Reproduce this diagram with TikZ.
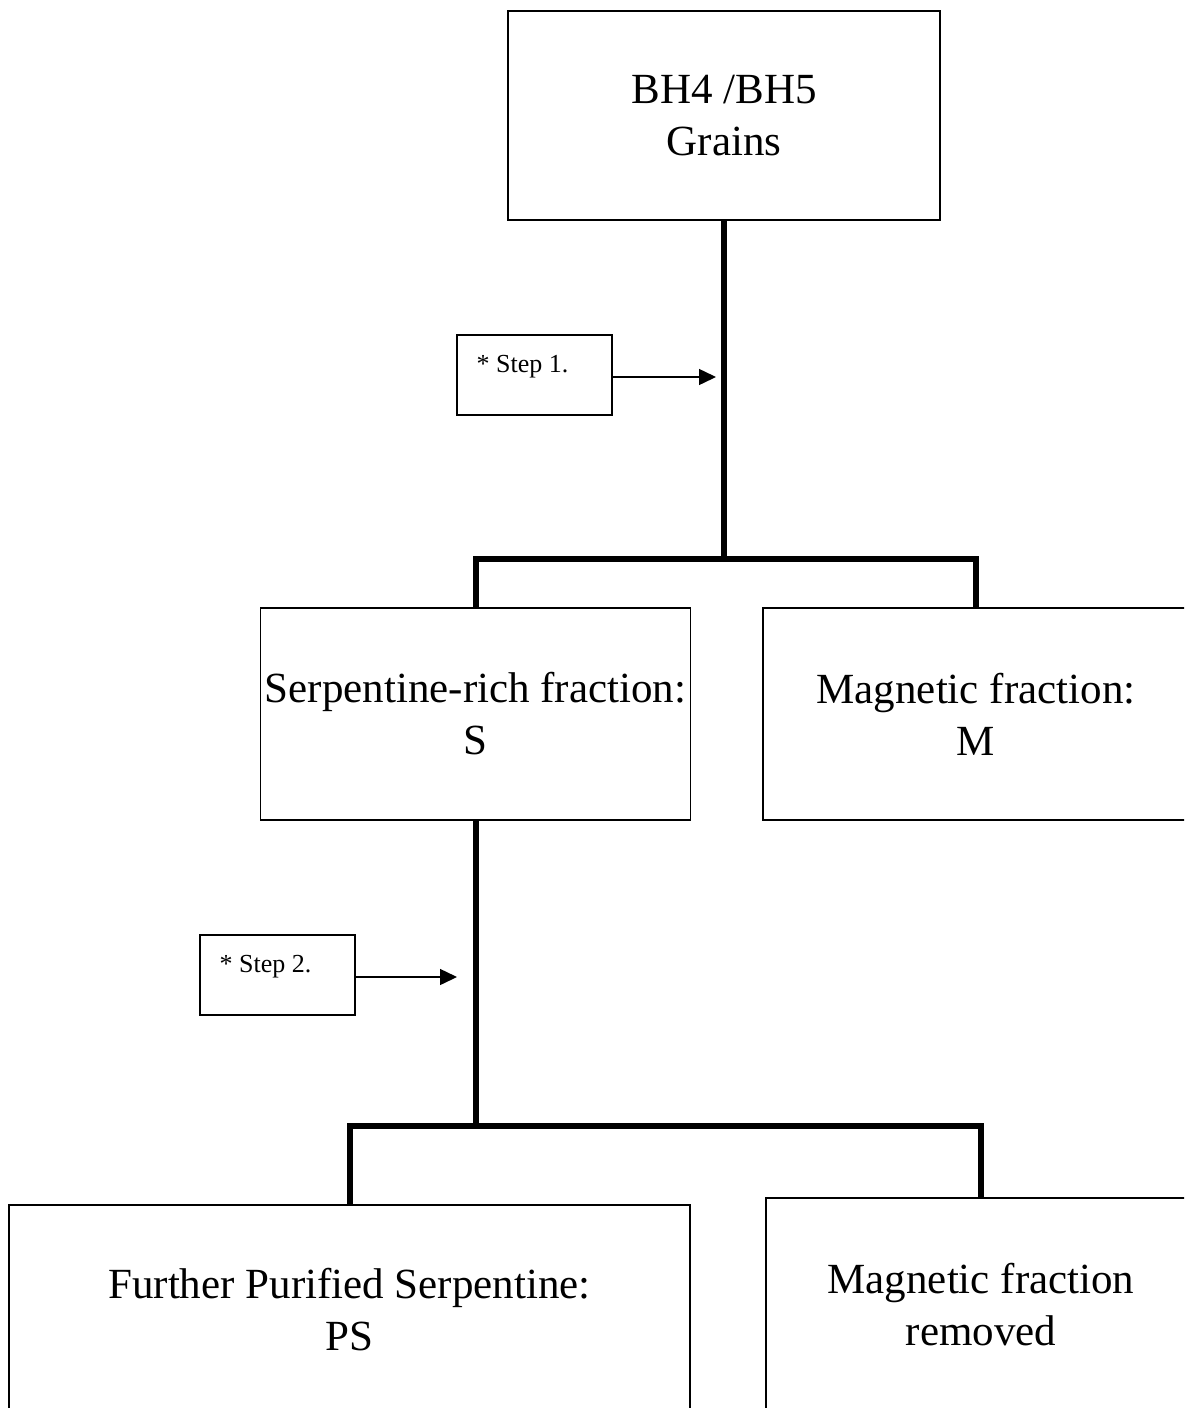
\documentclass[tikz,border=0pt]{standalone}
\usepackage{fontspec}
\setmainfont{Liberation Serif}
\usetikzlibrary{arrows.meta}
\begin{document}
\begin{tikzpicture}[x=0.5pt,y=-0.5pt,
    box/.style={draw,line width=0.9pt,align=center,inner sep=0pt,
      font=\fontsize{21.5}{26}\selectfont},
    stepbox/.style={draw,line width=0.8pt,minimum width=77.5pt,minimum height=40pt},
    steplabel/.style={inner sep=0pt,font=\fontsize{13}{15}\selectfont},
    link/.style={line width=3pt},
    pointer/.style={line width=0.75pt,-{Triangle[length=8.5pt,width=8pt]}}]
      \clip (0,0) rectangle (1184,1408);
      \draw
        (724,115.5) node[box,minimum width=216pt,minimum height=104.5pt] (grains){BH4 /BH5\\Grains}
        (475.5,714) node[box,minimum width=215pt,minimum height=106pt] (serp){Serpentine-rich fraction:\\S}
        (976,714) node[box,minimum width=213pt,minimum height=106pt] (magn){Magnetic fraction:\\M}
        (349.5,1310) node[box,minimum width=340.5pt,minimum height=105pt] (purif){Further Purified Serpentine:\\PS}
        (981,1305) node[box,minimum width=215pt,minimum height=107pt] (removed){Magnetic fraction\\removed}
        (534.5,375) node[stepbox] (step1){}
        (277.5,975) node[stepbox] (step2){};
      \node[steplabel,anchor=base west] (step1txt) at ([xshift=10pt,yshift=-19pt]step1.north west) {* Step 1.};
      \node[steplabel,anchor=base west] (step2txt) at ([xshift=10pt,yshift=-19pt]step2.north west) {* Step 2.};
      \coordinate (split1) at (724,559);
      \coordinate (split2) at (475.5,1126);
      \coordinate (tip1) at (716,377);
      \coordinate (tip2) at (457,977);
      \begin{scope}[link]
        \draw (grains) to (split1);
        \draw (split1) -| (serp.north);
        \draw (split1) -| (magn.north);
        \draw (serp.south) to (split2);
        \draw (split2) -| (purif.north);
        \draw (split2) -| (removed.north);
      \end{scope}
      \begin{scope}[pointer]
        \draw (step1.east |- tip1) to (tip1);
        \draw (step2.east |- tip2) to (tip2);
      \end{scope}
    \end{tikzpicture}
\end{document}
